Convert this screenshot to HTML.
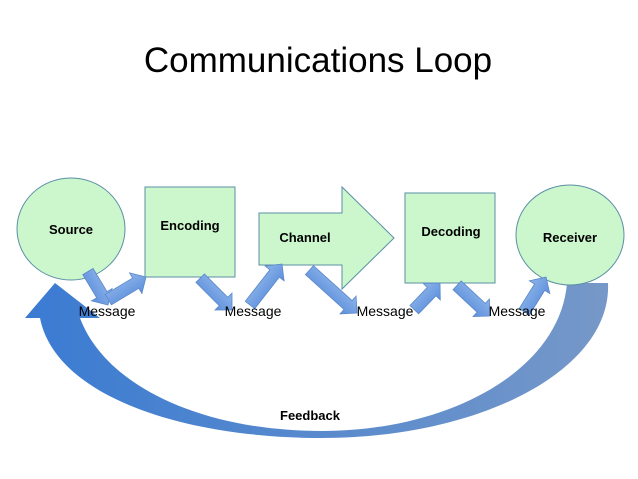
<!DOCTYPE html>
<html><head><meta charset="utf-8"><style>
html,body{margin:0;padding:0;background:#fff}
svg{display:block}
text{font-family:"Liberation Sans",sans-serif}
</style></head><body>
<svg width="638" height="479" viewBox="0 0 638 479" xmlns="http://www.w3.org/2000/svg">
<defs>
<linearGradient id="fb" x1="0" y1="0" x2="1" y2="0">
<stop offset="0" stop-color="#3a7bd2"/><stop offset="1" stop-color="#7698c8"/>
</linearGradient>
<linearGradient id="sa" x1="0" y1="0" x2="0" y2="1">
<stop offset="0" stop-color="#8db4ea"/><stop offset="1" stop-color="#5d8fdc"/>
</linearGradient>
</defs>
<text x="318" y="72" font-size="35" text-anchor="middle" fill="#000">Communications Loop</text>

<path d="M608,283 C612,370 480,438 322,438 C180,438 55,395 40,318 L25,318 L55,283 L100,318 L80,318 C105,385 200,431 322,431 C450,431 560,370 567,283 Z" fill="url(#fb)"/>

<g fill="#ccf7cc" stroke="#5b8fa6" stroke-width="1">
<ellipse cx="71" cy="229" rx="54" ry="51"/>
<rect x="145" y="187" width="90" height="90"/>
<polygon points="259,213 342,213 342,187 394,238 342,289 342,265 259,265"/>
<rect x="405" y="193" width="90" height="90"/>
<ellipse cx="570" cy="235" rx="54" ry="50"/>
</g>

<g fill="url(#sa)" stroke="#5a88c8" stroke-width="0.8">
<polygon transform="translate(108,305) rotate(59)" points="0,0 -12,-12 -12,-6 -39,-6 -39,6 -12,6 -12,12"/>
<polygon transform="translate(146,277) rotate(-31)" points="0,0 -12,-12 -12,-6 -44,-6 -44,6 -12,6 -12,12"/>
<polygon transform="translate(232,310) rotate(45)" points="0,0 -12,-12 -12,-6 -45,-6 -45,6 -12,6 -12,12"/>
<polygon transform="translate(282,264) rotate(-52)" points="0,0 -12,-12 -12,-6 -52,-6 -52,6 -12,6 -12,12"/>
<polygon transform="translate(357,313) rotate(42)" points="0,0 -12,-12 -12,-6 -64,-6 -64,6 -12,6 -12,12"/>
<polygon transform="translate(440,283) rotate(-46)" points="0,0 -12,-12 -12,-6 -37,-6 -37,6 -12,6 -12,12"/>
<polygon transform="translate(490,316) rotate(43)" points="0,0 -12,-12 -12,-6 -45,-6 -45,6 -12,6 -12,12"/>
<polygon transform="translate(546,277) rotate(-58)" points="0,0 -12,-12 -12,-6 -41,-6 -41,6 -12,6 -12,12"/>
</g>

<g font-size="13" font-weight="bold" fill="#000" text-anchor="middle">
<text x="71" y="234">Source</text>
<text x="190" y="230">Encoding</text>
<text x="305" y="242">Channel</text>
<text x="451" y="236">Decoding</text>
<text x="570" y="242">Receiver</text>
<text x="310" y="420">Feedback</text>
</g>
<g font-size="14" fill="#000" text-anchor="middle">
<text x="107" y="316">Message</text>
<text x="253" y="316">Message</text>
<text x="385" y="316">Message</text>
<text x="517" y="316">Message</text>
</g>
</svg>
</body></html>
